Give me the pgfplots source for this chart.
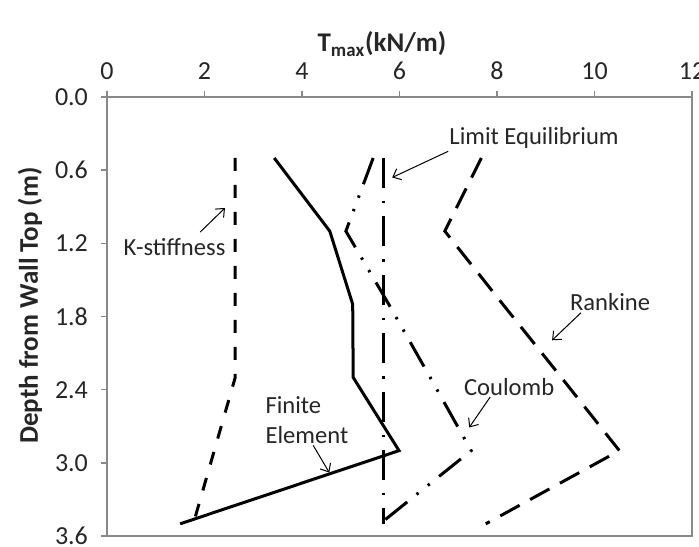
\documentclass[border=0pt]{standalone}
\usepackage{pgfplots}
\pgfplotsset{compat=1.18}
\usepackage{fontspec}
\setmainfont{Carlito}
\usetikzlibrary{arrows.meta}
\definecolor{axgray}{HTML}{898989}
\definecolor{txt}{HTML}{262626}
\begin{document}
\begin{tikzpicture}
\useasboundingbox (-53.5pt,-5pt) rectangle (296pt,268pt);
\begin{axis}[
  at={(0,0)}, anchor=south west,
  scale only axis, width=292.5pt, height=219.5pt,
  xmin=0, xmax=12, ymin=0, ymax=3.6,
  y dir=reverse,
  xtick={0,2,4,6,8,10,12},
  xticklabels={0,2,4,6,8,10,12},
  ytick={0,0.6,1.2,1.8,2.4,3.0,3.6},
  yticklabels={0.0,0.6,1.2,1.8,2.4,3.0,3.6},
  xticklabel pos=right, xtick pos=right,
  ytick pos=left,
  tick align=outside,
  major tick length=3pt,
  axis line style={axgray, line width=0.75pt},
  every tick/.style={axgray, line width=0.75pt},
  tick label style={font=\fontsize{13}{15}\selectfont, text=txt},
  yticklabel style={xshift=-3pt},
  xticklabel style={yshift=2pt},
  clip=false,
]
\addplot[black, line width=1.5pt] coordinates {(3.43,0.5) (4.57,1.1) (5.04,1.7) (5.05,2.3) (5.99,2.9) (1.50,3.5)};
\addplot[black, line width=1.5pt, dash pattern=on 6.5pt off 7pt] coordinates {(2.63,0.5) (2.63,1.1) (2.63,1.7) (2.63,2.3) (2.2,2.9) (1.77,3.5)};
\addplot[black, line width=1.5pt, dash pattern=on 15pt off 6.5pt on 1.2pt off 6.5pt] coordinates {(5.67,0.5) (5.67,1.1) (5.67,1.7) (5.67,2.3) (5.67,2.9) (5.67,3.5)};
\addplot[black, line width=1.5pt, dash pattern=on 14pt off 6pt on 1.2pt off 6pt on 1.2pt off 6pt] coordinates {(5.46,0.5) (4.9,1.1) (5.78,1.7) (6.63,2.3) (7.47,2.9) (5.6,3.5)};
\addplot[black, line width=1.5pt, dash pattern=on 11pt off 6pt] coordinates {(7.68,0.5) (6.93,1.1) (8.12,1.7) (9.32,2.3) (10.51,2.9) (7.77,3.5)};

\begin{scope}[every node/.style={font=\fontsize{12.3}{15}\selectfont, text=txt, inner sep=0pt}]
\node at (axis cs:1.385,1.232) {K-stiffness};
\node at (axis cs:8.76,0.337) {Limit Equilibrium};
\node at (axis cs:10.32,1.679) {Rankine};
\node at (axis cs:8.25,2.377) {Coulomb};
\node[align=left] at (axis cs:4.10,2.652) {Finite\\Element};
\end{scope}
\begin{scope}[line width=0.5pt, black, -{Straight Barb[length=3.5pt,width=6pt]}]
\draw (axis cs:1.91,1.108) -- (axis cs:2.42,0.91);
\draw (axis cs:7.0,0.445) -- (axis cs:5.85,0.66);
\draw (axis cs:9.72,1.77) -- (axis cs:9.13,1.995);
\draw (axis cs:7.86,2.46) -- (axis cs:7.43,2.71);
\draw (axis cs:4.23,2.857) -- (axis cs:4.56,3.08);
\end{scope}
\node[font=\bfseries\fontsize{13.5}{15}\selectfont, text=txt] at (axis cs:5.64,-0.435) {T\textsubscript{max}(kN/m)};
\node[font=\bfseries\fontsize{13.5}{15}\selectfont, text=txt, rotate=90] at (axis cs:-1.58,1.71) {Depth from Wall Top (m)};
\end{axis}
\end{tikzpicture}
\end{document}
